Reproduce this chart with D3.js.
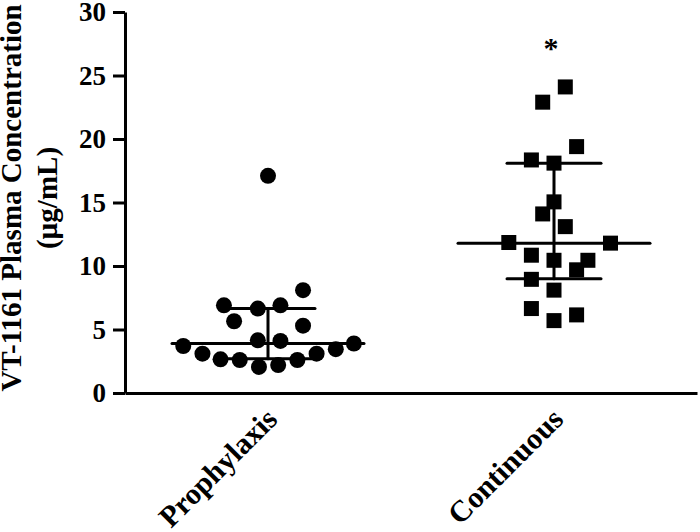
<!DOCTYPE html>
<html>
<head>
<meta charset="utf-8">
<script src="https://cdn.jsdelivr.net/npm/d3@7"></script>
<style>
  body { margin: 0; background: #fff; }
  svg text { font-family: "Liberation Serif", "Times New Roman", serif; font-weight: bold; }
</style>
</head>
<body>
<svg id="chart" width="700" height="532"></svg>
<script>
// groups on the x axis
var groups = ["Prophylaxis", "Continuous"];

// individual plasma concentrations (ug/mL)
var prophylaxis = [17.1, 8.1, 6.9, 6.65, 6.9, 5.65, 5.3, 4.15, 4.1, 3.7, 3.9, 3.1, 3.45, 3.1, 2.65, 2.6, 2.6, 2.05, 2.2];
var continuous = [24.1, 22.9, 19.4, 18.35, 18.1, 15.05, 14.1, 13.1, 11.85, 11.8, 10.85, 10.45, 10.45, 9.7, 8.95, 8.1, 6.65, 6.15, 5.7];

// scatter column slots (how far each symbol is pushed sideways)
var prophylaxisSlot = [0, 3.1, -3.9, -0.9, 1.1, -3, 3.1, -0.9, 1.1, -7.5, 7.6, -5.8, 6, 4.3, -4.2, -2.5, 2.6, -0.8, 0.9];
var continuousSlot = [1, -1, 2, -2, 0, 0, -1, 1, -4, 5, -2, 0, 3, 2, -2, 0, -2, 2, 0];

// median with interquartile range
var medians = [3.9, 11.8];
var q1 = [2.7, 9.0];
var q3 = [6.65, 18.1];

var yTicks = [0, 5, 10, 15, 20, 25, 30];

var svg = d3.select("#chart");

var x = d3.scalePoint()
    .domain(groups)
    .range([125, 697])
    .padding(0.5);

var y = d3.scaleLinear()
    .domain([0, 30])
    .range([393, 12]);

var slot = d3.scaleLinear().domain([0, 1]).range([0, 11.3]);

// points
var g = svg.append("g");

g.selectAll("circle")
  .data(prophylaxis)
  .enter().append("circle")
    .attr("cx", function(d, i) { return x("Prophylaxis") + slot(prophylaxisSlot[i]); })
    .attr("cy", function(d) { return y(d); })
    .attr("r", 8)
    .attr("fill", "#000");

var sq = 15;
g.selectAll("rect")
  .data(continuous)
  .enter().append("rect")
    .attr("x", function(d, i) { return x("Continuous") + slot(continuousSlot[i]) - sq / 2; })
    .attr("y", function(d) { return y(d) - sq / 2; })
    .attr("width", sq)
    .attr("height", sq)
    .attr("fill", "#000");

// median + IQR bars
var stats = groups.map(function(k, i) { return {key: k, med: medians[i], lo: q1[i], hi: q3[i]}; });

var bars = svg.append("g")
    .attr("stroke", "#000")
    .attr("stroke-width", 3)
    .attr("stroke-linecap", "round");

bars.selectAll(".med")
  .data(stats)
  .enter().append("line")
    .attr("x1", function(d) { return x(d.key) - 96; })
    .attr("x2", function(d) { return x(d.key) + 96; })
    .attr("y1", function(d) { return y(d.med); })
    .attr("y2", function(d) { return y(d.med); });

bars.selectAll(".q1")
  .data(stats)
  .enter().append("line")
    .attr("x1", function(d) { return x(d.key) - 47; })
    .attr("x2", function(d) { return x(d.key) + 47; })
    .attr("y1", function(d) { return y(d.lo); })
    .attr("y2", function(d) { return y(d.lo); });

bars.selectAll(".q3")
  .data(stats)
  .enter().append("line")
    .attr("x1", function(d) { return x(d.key) - 47; })
    .attr("x2", function(d) { return x(d.key) + 47; })
    .attr("y1", function(d) { return y(d.hi); })
    .attr("y2", function(d) { return y(d.hi); });

bars.selectAll(".v")
  .data(stats)
  .enter().append("line")
    .attr("x1", function(d) { return x(d.key); })
    .attr("x2", function(d) { return x(d.key); })
    .attr("y1", function(d) { return y(d.lo); })
    .attr("y2", function(d) { return y(d.hi); });

// y axis
var yAxis = svg.append("g")
    .attr("transform", "translate(125,0)")
    .call(d3.axisLeft(y).tickValues(yTicks).tickSize(12).tickSizeOuter(0).tickPadding(7));
yAxis.select(".domain").attr("stroke-width", 3);
yAxis.selectAll(".tick line").attr("stroke-width", 3);
yAxis.selectAll("text").attr("font-size", 27).attr("fill", "#000")
    .attr("font-family", "Liberation Serif").attr("font-weight", "bold");

// x axis (no ticks)
var xAxis = svg.append("g")
    .attr("transform", "translate(0,393)")
    .call(d3.axisBottom(x).tickSize(0).tickSizeOuter(0).tickFormat(""));
xAxis.select(".domain").attr("stroke-width", 3);

// rotated group labels
svg.append("g").selectAll("text")
  .data(groups)
  .enter().append("text")
    .attr("transform", function(d) { return "translate(" + (x(d) + 11) + ",421) rotate(-45)"; })
    .attr("text-anchor", "end")
    .attr("font-size", 30)
    .text(function(d) { return d; });

// significance star
svg.append("text")
    .attr("x", x("Continuous") - 3)
    .attr("y", 58)
    .attr("text-anchor", "middle")
    .attr("font-size", 30)
    .text("*");

// y axis title
var yt = svg.append("text")
    .attr("transform", "translate(21,198) rotate(-90)")
    .attr("text-anchor", "middle")
    .attr("font-size", 29);
yt.append("tspan").attr("x", 0).attr("dy", 0).text("VT-1161 Plasma Concentration");
yt.append("tspan").attr("x", 0).attr("dy", 36).text("(\u00b5g/mL)");
</script>
</body>
</html>
